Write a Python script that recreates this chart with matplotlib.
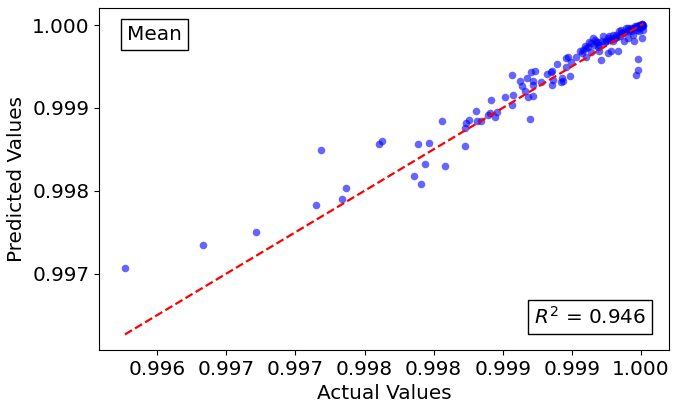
import matplotlib
matplotlib.use("Agg")
import matplotlib.pyplot as plt
import numpy as np

actual = [
    0.996265, 0.996827, 0.997212, 0.997651, 0.997683, 0.997836, 0.997863, 0.998102,
    0.998129, 0.998361, 0.998388, 0.998409, 0.998438, 0.998469, 0.998563, 0.998579,
    0.998726, 0.998730, 0.998737, 0.998757, 0.998809, 0.998814, 0.998845, 0.998891,
    0.998910, 0.998913, 0.998944, 0.998958, 0.999018, 0.999068, 0.999071, 0.999073,
    0.999122, 0.999140, 0.999160, 0.999174, 0.999183, 0.999196, 0.999205, 0.999217,
    0.999219, 0.999222, 0.999232, 0.999275, 0.999318, 0.999347, 0.999354, 0.999359,
    0.999366, 0.999390, 0.999424, 0.999433, 0.999438, 0.999462, 0.999462, 0.999476,
    0.999488, 0.999496, 0.999529, 0.999572, 0.999593, 0.999606, 0.999625, 0.999642,
    0.999654, 0.999678, 0.999690, 0.999701, 0.999714, 0.999726, 0.999750, 0.999762,
    0.999773, 0.999786, 0.999798, 0.999822, 0.999834, 0.999857, 0.999870, 0.999881,
    0.999893, 0.999906, 0.999917, 0.999929, 0.999942, 0.999953, 0.999965, 0.999965,
    0.999978, 0.999982, 0.999989, 1.000001, 1.000008, 1.000013, 1.000018,
    0.999940, 0.999950, 0.999960, 0.999970, 0.999975, 0.999980, 0.999985, 0.999990,
    0.999995, 1.000000, 1.000003, 1.000006, 1.000010, 1.000012, 1.000015, 0.999920,
    0.999910, 0.999900, 0.999880, 0.999860, 0.999850, 0.999840, 0.999830, 0.999810,
    0.999800, 0.999790, 0.999770, 0.999760, 0.999740, 0.999720, 0.999700, 0.999690,
    0.999670, 0.999660, 0.999640, 0.999620, 0.999600, 0.999580, 0.999560,
]
predicted = [
    0.997069, 0.997342, 0.997499, 0.997831, 0.998494, 0.997900, 0.998029, 0.998559,
    0.998595, 0.998173, 0.998566, 0.998077, 0.998318, 0.998578, 0.998848, 0.998301,
    0.998542, 0.998759, 0.998819, 0.998860, 0.998960, 0.998848, 0.998848, 0.998912,
    0.998936, 0.999096, 0.998896, 0.998948, 0.999129, 0.999394, 0.999041, 0.999161,
    0.999330, 0.999270, 0.999201, 0.999361, 0.999137, 0.998867, 0.999434, 0.999322,
    0.999282, 0.999141, 0.999451, 0.999310, 0.999414, 0.999430, 0.999282, 0.999451,
    0.999342, 0.999535, 0.999310, 0.999361, 0.999330, 0.999602, 0.999490, 0.999611,
    0.999386, 0.999551, 0.999614, 0.999667, 0.999743, 0.999611, 0.999795, 0.999675,
    0.999848, 0.999795, 0.999731, 0.999683, 0.999583, 0.999864, 0.999804, 0.999663,
    0.999864, 0.999683, 0.999804, 0.999884, 0.999692, 0.999945, 0.999904, 0.999804,
    0.999964, 0.999843, 0.999924, 0.999964, 0.999884, 0.999804, 0.999972, 0.999394,
    0.999463, 0.999587, 0.999924, 0.999972, 0.999848, 0.999984, 0.999945,
    0.999930, 0.999960, 0.999990, 0.999940, 0.999985, 0.999995, 0.999965, 1.000000,
    0.999985, 1.000005, 0.999990, 1.000010, 0.999995, 1.000015, 1.000000, 0.999950,
    0.999970, 0.999930, 0.999915, 0.999900, 0.999870, 0.999925, 0.999860, 0.999850,
    0.999880, 0.999830, 0.999820, 0.999840, 0.999790, 0.999810, 0.999760, 0.999800,
    0.999820, 0.999760, 0.999780, 0.999740, 0.999720, 0.999700, 0.999690,
]

x_ticks = [0.9965, 0.9970, 0.9975, 0.9980, 0.9985, 0.9990, 0.9995, 1.0000]
x_tick_labels = ["0.996", "0.997", "0.997", "0.998", "0.998", "0.999", "0.999", "1.000"]
y_ticks = [0.997, 0.998, 0.999, 1.000]
y_tick_labels = ["0.997", "0.998", "0.999", "1.000"]

title_text = "Mean"
r2_value = 0.946

fs = 14.4
fig = plt.figure(figsize=(6.78, 4.03), dpi=100)
ax = fig.add_axes([0.146, 0.1315, 0.841, 0.8485])

ax.scatter(actual, predicted, s=30, color="blue", alpha=0.6, linewidths=0)
lo, hi = min(actual), max(actual)
ax.plot([lo, hi], [lo, hi], "r--", lw=1.6)

ax.set_xticks(x_ticks)
ax.set_xticklabels(x_tick_labels)
ax.set_yticks(y_ticks)
ax.set_yticklabels(y_tick_labels)
ax.tick_params(labelsize=fs)
ax.set_xlabel("Actual Values", fontsize=fs)
ax.set_ylabel("Predicted Values", fontsize=fs)

ax.text(0.05, 0.95, title_text, transform=ax.transAxes, fontsize=fs,
        va="top", ha="left",
        bbox=dict(boxstyle="square,pad=0.3", facecolor="white", edgecolor="black"))
ax.text(0.96, 0.065, f"$R^2$ = {r2_value:.3f}", transform=ax.transAxes, fontsize=fs,
        va="bottom", ha="right",
        bbox=dict(boxstyle="square,pad=0.3", facecolor="white", edgecolor="black"))

fig.savefig("out.png", dpi=100)
